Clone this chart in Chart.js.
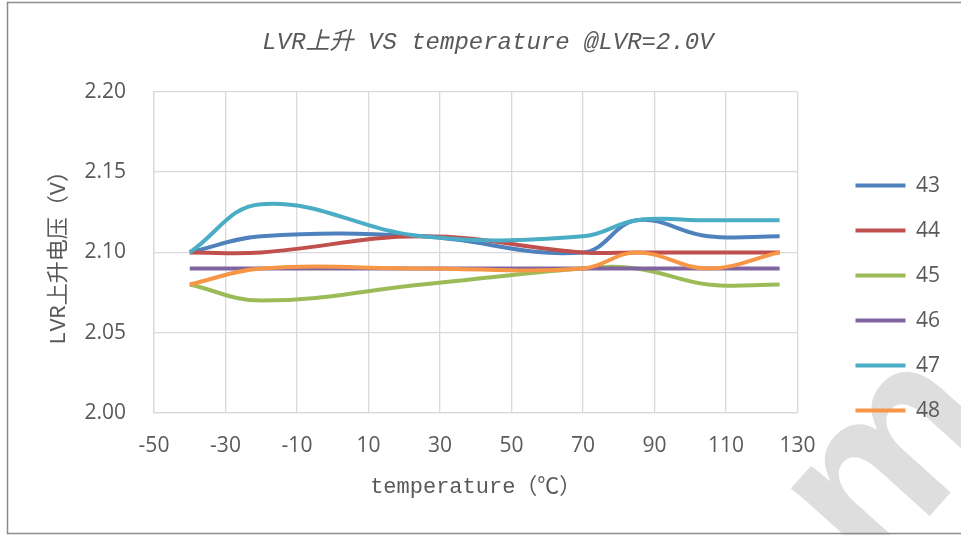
<!DOCTYPE html>
<html>
<head>
<meta charset="utf-8">
<script src="https://cdn.jsdelivr.net/npm/chart.js@4.4.1/dist/chart.umd.min.js"></script>
<style>
  html, body { margin:0; padding:0; background:#fff; }
  #chart { display:block; }
</style>
</head>
<body>
<canvas id="chart" width="961" height="535"></canvas>
<script>
// data
const temps = [-40, -20, 25, 70, 85, 105, 125];
const s43 = [2.10, 2.11, 2.11, 2.10, 2.12, 2.11, 2.11];
const s44 = [2.10, 2.10, 2.11, 2.10, 2.10, 2.10, 2.10];
const s45 = [2.08, 2.07, 2.08, 2.09, 2.09, 2.08, 2.08];
const s46 = [2.09, 2.09, 2.09, 2.09, 2.09, 2.09, 2.09];
const s47 = [2.10, 2.13, 2.11, 2.11, 2.12, 2.12, 2.12];
const s48 = [2.08, 2.09, 2.09, 2.09, 2.10, 2.09, 2.10];
const seriesNames = ['43', '44', '45', '46', '47', '48'];
const seriesValues = [s43, s44, s45, s46, s47, s48];
const colors = ['#4F81BD', '#C0504D', '#9BBB59', '#8064A2', '#4BACC6', '#F79646'];

const xTicksMin = -50, xTicksMax = 130, xStep = 20;
const yMin = 2.00, yMax = 2.20, yStep = 0.05;

const textColor = '#595959';
const gridColor = '#d9d9d9';
const monoFont = '"Liberation Mono", "Noto Sans CJK SC", monospace';

Chart.defaults.font.family = '"Open Sans", sans-serif';

// faint watermark letter and the outer frame
const decor = {
  id: 'decor',
  beforeDraw(chart){
    const ctx = chart.ctx;
    ctx.save();
    ctx.fillStyle = '#dedede';
    ctx.font = 'bold 230px "Liberation Sans"';
    const m = ctx.measureText('m');
    ctx.translate(789, 487);
    ctx.rotate(-48 * Math.PI / 180);
    ctx.textBaseline = 'alphabetic';
    ctx.fillText('m', m.actualBoundingBoxLeft, m.actualBoundingBoxAscent);
    ctx.restore();
  },
  afterDraw(chart){
    const ctx = chart.ctx;
    ctx.save();
    ctx.strokeStyle = '#8c8c8c';
    ctx.lineWidth = 1.5;
    ctx.strokeRect(7.5, 2.5, 960, 531);
    ctx.restore();
  }
};

const datasets = seriesNames.map((name, i) => ({
  label: name,
  data: temps.map((t, k) => ({ x: t, y: seriesValues[i][k] })),
  borderColor: colors[i],
  backgroundColor: colors[i],
  borderWidth: 4,
  pointRadius: 0,
  tension: 0.4,
  fill: false,
  order: seriesNames.length - i
}));

new Chart(document.getElementById('chart'), {
  type: 'line',
  data: { datasets },
  plugins: [decor],
  options: {
    responsive: false,
    animation: false,
    layout: { padding: { left: 26, right: 11, top: 0, bottom: 0 } },
    plugins: {
      title: {
        display: true,
        text: 'LVR上升 VS temperature @LVR=2.0V',
        color: textColor,
        font: { family: monoFont, size: 24, style: 'italic', weight: 'normal' },
        padding: { top: 28, bottom: 35 }
      },
      legend: {
        position: 'right',
        title: { display: true, text: ' ', font: { size: 21 }, padding: { top: 18, bottom: 18 } },
        labels: {
          usePointStyle: true,
          pointStyle: 'line',
          pointStyleWidth: 50,
          padding: 24,
          color: textColor,
          font: { size: 21 },
          sort: (a, b) => a.datasetIndex - b.datasetIndex
        }
      },
      tooltip: { enabled: false }
    },
    scales: {
      x: {
        type: 'linear',
        min: xTicksMin, max: xTicksMax,
        ticks: { stepSize: xStep, padding: 20, color: textColor, font: { size: 21 } },
        grid: { color: gridColor, lineWidth: 1.3, drawTicks: false },
        border: { color: gridColor, width: 1.3 },
        title: {
          display: true,
          text: 'temperature（℃）',
          color: textColor,
          font: { family: monoFont, size: 22 },
          padding: { top: 0, bottom: 35 }
        },
        afterFit: s => { s.height = 122; }
      },
      y: {
        min: yMin, max: yMax,
        ticks: { stepSize: yStep, padding: 28, color: textColor, font: { size: 21 }, callback: v => v.toFixed(2) },
        grid: { color: gridColor, lineWidth: 1.3, drawTicks: false },
        border: { color: gridColor, width: 1.3 },
        title: {
          display: true,
          text: 'LVR上升电压（V）',
          color: textColor,
          font: { family: monoFont, size: 22 },
          padding: { top: 20, bottom: 0 }
        },
        afterFit: s => { s.width = 128; }
      },
      spacer: {
        type: 'linear',
        position: 'right',
        display: true,
        grid: { display: false },
        border: { display: false },
        ticks: { display: false },
        afterFit: s => { s.width = 34; }
      }
    }
  }
});
</script>
</body>
</html>
